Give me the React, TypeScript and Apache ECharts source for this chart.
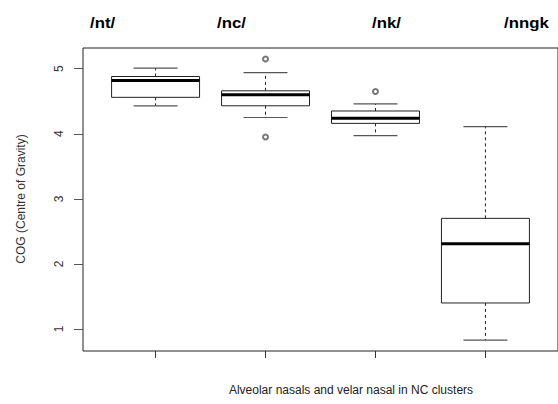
import React, { useEffect, useRef } from "react";
import * as echarts from "echarts";

const categories = ["/nt/", "/nc/", "/nk/", "/nngk"];
const lowWhisker = [4.43, 4.25, 3.97, 0.83];
const q1 = [4.56, 4.43, 4.16, 1.4];
const median = [4.82, 4.6, 4.24, 2.31];
const q3 = [4.88, 4.66, 4.35, 2.7];
const highWhisker = [5.01, 4.94, 4.46, 4.11];
const outliers: [number, number][] = [
  [2, 5.15],
  [2, 3.95],
  [3, 4.65],
];
const yTicks = [1, 2, 3, 4, 5];
const xTicks = [1, 2, 3, 4];
const yTitle = "COG (Centre of Gravity)";
const xTitle = "Alveolar nasals and velar nasal in NC clusters";
const headerX = [90, 217, 372, 504];

export default function App() {
  const ref = useRef<HTMLDivElement>(null);
  useEffect(() => {
    if (!ref.current) return;
    const chart = echarts.init(ref.current, null, { renderer: "svg" });
    const boxData = categories.map((_, i) => [
      i + 1,
      lowWhisker[i],
      q1[i],
      median[i],
      q3[i],
      highWhisker[i],
    ]);
    const font = "Liberation Sans, Arial, sans-serif";
    const baseGraphic: any[] = [
      ...categories.map((c, i) => ({
        type: "text",
        x: headerX[i],
        y: 23,
        scaleX: 1.2,
        style: {
          text: c,
          font: "bold 14px " + font,
          fill: "#000",
          verticalAlign: "middle",
        },
      })),
      {
        type: "text",
        x: 351,
        y: 390,
        style: {
          text: xTitle,
          font: "12px " + font,
          fill: "#222",
          align: "center",
          verticalAlign: "middle",
        },
      },
      {
        type: "text",
        x: 21,
        y: 199,
        rotation: Math.PI / 2,
        style: {
          text: yTitle,
          font: "12px " + font,
          fill: "#333",
          align: "center",
          verticalAlign: "middle",
        },
      },
    ];
    chart.setOption({
      animation: false,
      backgroundColor: "#ffffff",
      grid: {
        left: 83,
        top: 48,
        width: 483,
        height: 303,
        show: true,
        borderColor: "#222",
        borderWidth: 1,
        backgroundColor: "transparent",
      },
      xAxis: {
        type: "value",
        min: 0.34,
        max: 4.66,
        axisLine: { show: false },
        axisTick: {
          show: true,
          customValues: xTicks,
          length: 7,
          lineStyle: { color: "#333" },
        },
        axisLabel: { show: false },
        splitLine: { show: false },
      },
      yAxis: {
        type: "value",
        min: 0.662,
        max: 5.318,
        axisLine: { show: false },
        axisTick: {
          show: true,
          customValues: yTicks,
          length: 9,
          lineStyle: { color: "#555" },
        },
        axisLabel: { show: false },
        splitLine: { show: false },
      },
      graphic: baseGraphic,
      series: [
        {
          type: "custom",
          data: boxData,
          encode: { x: 0, y: [1, 2, 3, 4, 5] },
          renderItem: (params: any, api: any) => {
            const x = api.value(0);
            const pLo = api.coord([x, api.value(1)]);
            const pQ1 = api.coord([x, api.value(2)]);
            const pMed = api.coord([x, api.value(3)]);
            const pQ3 = api.coord([x, api.value(4)]);
            const pHi = api.coord([x, api.value(5)]);
            const bw = api.size([0.8, 0])[0];
            const cw = api.size([0.4, 0])[0];
            const cx = pMed[0];
            return {
              type: "group",
              children: [
                {
                  type: "line",
                  shape: { x1: cx, y1: pQ3[1], x2: cx, y2: pHi[1] },
                  style: { stroke: "#222", lineWidth: 1, lineDash: [3, 3] },
                },
                {
                  type: "line",
                  shape: { x1: cx, y1: pQ1[1], x2: cx, y2: pLo[1] },
                  style: { stroke: "#222", lineWidth: 1, lineDash: [3, 3] },
                },
                {
                  type: "line",
                  shape: { x1: cx - cw / 2, y1: pHi[1], x2: cx + cw / 2, y2: pHi[1] },
                  style: { stroke: "#555", lineWidth: 1.2 },
                },
                {
                  type: "line",
                  shape: { x1: cx - cw / 2, y1: pLo[1], x2: cx + cw / 2, y2: pLo[1] },
                  style: { stroke: "#555", lineWidth: 1.2 },
                },
                {
                  type: "rect",
                  shape: {
                    x: cx - bw / 2,
                    y: pQ3[1],
                    width: bw,
                    height: pQ1[1] - pQ3[1],
                  },
                  style: { fill: "#fff", stroke: "#222", lineWidth: 1 },
                },
                {
                  type: "line",
                  shape: { x1: cx - bw / 2, y1: pMed[1], x2: cx + bw / 2, y2: pMed[1] },
                  style: { stroke: "#000", lineWidth: 3 },
                },
              ],
            };
          },
        },
        {
          type: "scatter",
          data: outliers,
          symbol: "emptyCircle",
          symbolSize: 5,
          itemStyle: { color: "#555", borderWidth: 0.8 },
        },
      ],
    });
    const tickLabels = yTicks.map((v) => {
      const py = chart.convertToPixel({ yAxisIndex: 0 }, v) as number;
      return {
        type: "text",
        x: 59,
        y: py,
        rotation: Math.PI / 2,
        style: {
          text: String(v),
          font: "12px " + font,
          fill: "#333",
          align: "center",
          verticalAlign: "middle",
        },
      };
    });
    chart.setOption({ graphic: [...baseGraphic, ...tickLabels] });
    return () => chart.dispose();
  }, []);
  return (
    <div
      ref={ref}
      style={{ position: "fixed", left: 0, top: 0, width: 558, height: 404, background: "#fff" }}
    />
  );
}
